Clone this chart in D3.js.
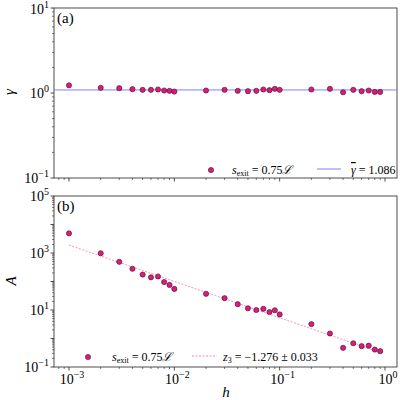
<!DOCTYPE html>
<html><head><meta charset="utf-8">
<script src="https://cdn.jsdelivr.net/npm/d3@7"></script>
<style>body{margin:0;background:#fff}</style>
</head><body><svg id="c" width="400" height="400" font-family="'Liberation Serif', 'Times New Roman', 'DejaVu Serif', serif"></svg>
<script>
var hVals = [0.001,0.002,0.003,0.004,0.005,0.006,0.007,0.008,0.009,0.01,
  0.02,0.03,0.04,0.05,0.06,0.07,0.08,0.09,0.1,0.2,0.3,0.4,0.5,0.6,0.7,0.8,0.9];
var gammaVals = [1.23,1.15,1.14,1.11,1.09,1.09,1.10,1.07,1.06,1.04,
  1.07,1.09,1.06,1.05,1.06,1.10,1.08,1.12,1.09,1.10,1.12,1.02,1.09,1.05,1.07,1.03,1.03];
var aVals = [4900,980,490,280,175,140,150,96,76,55,
  37,26,16,11.5,10,11,8.5,9.8,7,3.2,1.5,0.47,0.68,0.54,0.56,0.41,0.36];
var gammaMean = 1.086;
var fitAt1e3 = 1900, fitSlope = -1.276;
var fitRange = [0.001, 0.9];

var svg = d3.select("#c");
var L = 54, R = 397;
var x = d3.scaleLog().domain([1e-3, 1]).range([69, 385]);
var xd = [x.invert(L), x.invert(R)];
var yA = d3.scaleLog().domain([0.1, 10]).range([178, 8]);
var yB = d3.scaleLog().domain([0.1, 1e5]).range([367, 196]);
var pink = "#e8157f", ink = "#222";

function sup(t, base, e) {
  t.append("tspan").text(base);
  t.append("tspan").attr("dy", -6).attr("font-size", 10).text(e);
}
function panel(y, label) {
  var r = y.range();
  var g = svg.append("g");
  var major = [1e-3, 1e-2, 1e-1, 1];
  var minor = [];
  for (var d = -4; d <= 0; d++) for (var k = 2; k < 10; k++) {
    var v = k * Math.pow(10, d);
    if (v > xd[0] && v < xd[1]) minor.push(v);
  }
  g.selectAll(".xm").data(minor).enter().append("line")
    .attr("x1", x).attr("x2", x).attr("y1", r[0]).attr("y2", r[0] + 2).attr("stroke", ink).attr("stroke-width", 0.6);
  g.selectAll(".xM").data(major).enter().append("line")
    .attr("x1", x).attr("x2", x).attr("y1", r[0]).attr("y2", r[0] + 3.5).attr("stroke", ink).attr("stroke-width", 0.8);
  var yd = y.domain(), ym = [], yM = [];
  for (var e = Math.round(Math.log10(yd[0])); e <= Math.round(Math.log10(yd[1])); e++) {
    yM.push(Math.pow(10, e));
    if (e < Math.round(Math.log10(yd[1]))) for (var k2 = 2; k2 < 10; k2++) ym.push(k2 * Math.pow(10, e));
  }
  g.selectAll(".ym").data(ym).enter().append("line")
    .attr("y1", y).attr("y2", y).attr("x1", L).attr("x2", L - 2).attr("stroke", ink).attr("stroke-width", 0.6);
  g.selectAll(".yM").data(yM).enter().append("line")
    .attr("y1", y).attr("y2", y).attr("x1", L).attr("x2", L - 3.5).attr("stroke", ink).attr("stroke-width", 0.8);
  var step = yM.length > 3 ? 2 : 1;
  yM.forEach(function(v, i) {
    if (i % step) return;
    var yy = Math.max(y(v) + 5, 14);
    var t = g.append("text").attr("x", L - 5).attr("y", yy).attr("text-anchor", "end").attr("font-size", 14);
    sup(t, "10", String(Math.round(Math.log10(v))).replace("-", "\u2212"));
  });
  g.append("rect").attr("x", L).attr("y", r[1]).attr("width", R - L).attr("height", r[0] - r[1])
    .attr("fill", "none").attr("stroke", ink).attr("stroke-width", 0.8);
  g.append("text").attr("x", L + 3).attr("y", r[1] + 15).attr("font-size", 15).text(label);
  return g;
}

var gA = panel(yA, "(a)");
var gB = panel(yB, "(b)");

[1e-3, 1e-2, 1e-1, 1].forEach(function(v) {
  var t = svg.append("text").attr("x", x(v) + 3).attr("y", 384).attr("text-anchor", "middle").attr("font-size", 14);
  sup(t, "10", String(Math.round(Math.log10(v))).replace("-", "\u2212"));
});

gA.append("line").attr("x1", L).attr("x2", R).attr("y1", yA(gammaMean)).attr("y2", yA(gammaMean))
  .attr("stroke", "#7f7fff").attr("stroke-width", 1);
gA.selectAll("circle").data(hVals).enter().append("circle")
  .attr("cx", function(d) { return x(d); }).attr("cy", function(d, i) { return yA(gammaVals[i]); })
  .attr("r", 2.6).attr("fill", pink).attr("stroke", ink).attr("stroke-width", 0.6);

var fitLine = d3.line().x(function(d) { return x(d); })
  .y(function(d) { return yB(fitAt1e3 * Math.pow(d / 1e-3, fitSlope)); });
gB.append("path").attr("d", fitLine(fitRange)).attr("fill", "none")
  .attr("stroke", "#ff7fbf").attr("stroke-width", 0.9).attr("stroke-dasharray", "2,1.5");
gB.selectAll("circle").data(hVals).enter().append("circle")
  .attr("cx", function(d) { return x(d); }).attr("cy", function(d, i) { return yB(aVals[i]); })
  .attr("r", 2.6).attr("fill", pink).attr("stroke", ink).attr("stroke-width", 0.6);

function sexit(xp, yp) {
  var t = svg.append("text").attr("x", xp).attr("y", yp).attr("font-size", 12);
  t.append("tspan").attr("font-style", "italic").text("s");
  t.append("tspan").attr("font-size", 8).attr("dy", 2).text("exit");
  t.append("tspan").attr("dy", -2).text(" = 0.75");
  t.append("tspan").attr("font-style", "italic").text("\u2112");
}
svg.append("circle").attr("cx", 211).attr("cy", 170).attr("r", 2.6).attr("fill", pink).attr("stroke", ink).attr("stroke-width", 0.6);
sexit(232, 174);
svg.append("line").attr("x1", 317).attr("x2", 341).attr("y1", 169).attr("y2", 169).attr("stroke", "#7f7fff");
var tg = svg.append("text").attr("x", 351).attr("y", 174).attr("font-size", 12);
tg.append("tspan").attr("font-style", "italic").attr("text-decoration", "overline").text("\u03b3");
tg.append("tspan").text(" = 1.086");

svg.append("circle").attr("cx", 88).attr("cy", 357).attr("r", 2.6).attr("fill", pink).attr("stroke", ink).attr("stroke-width", 0.6);
sexit(112, 361);
svg.append("line").attr("x1", 192).attr("x2", 217).attr("y1", 356).attr("y2", 356)
  .attr("stroke", "#ff7fbf").attr("stroke-dasharray", "2,1.5");
var tz = svg.append("text").attr("x", 223).attr("y", 361).attr("font-size", 12);
tz.append("tspan").attr("font-style", "italic").text("z");
tz.append("tspan").attr("font-size", 8).attr("dy", 2).text("3");
tz.append("tspan").attr("dy", -2).text(" = \u22121.276 \u00b1 0.033");

svg.append("text").attr("transform", "translate(14,92) rotate(-90)").attr("text-anchor", "middle")
  .attr("font-size", 15).attr("font-style", "italic").text("\u03b3");
svg.append("text").attr("transform", "translate(16,281) rotate(-90)").attr("text-anchor", "middle")
  .attr("font-size", 15).attr("font-style", "italic").text("A");
svg.append("text").attr("x", 226).attr("y", 397).attr("text-anchor", "middle")
  .attr("font-size", 15).attr("font-style", "italic").text("h");
</script></body></html>
